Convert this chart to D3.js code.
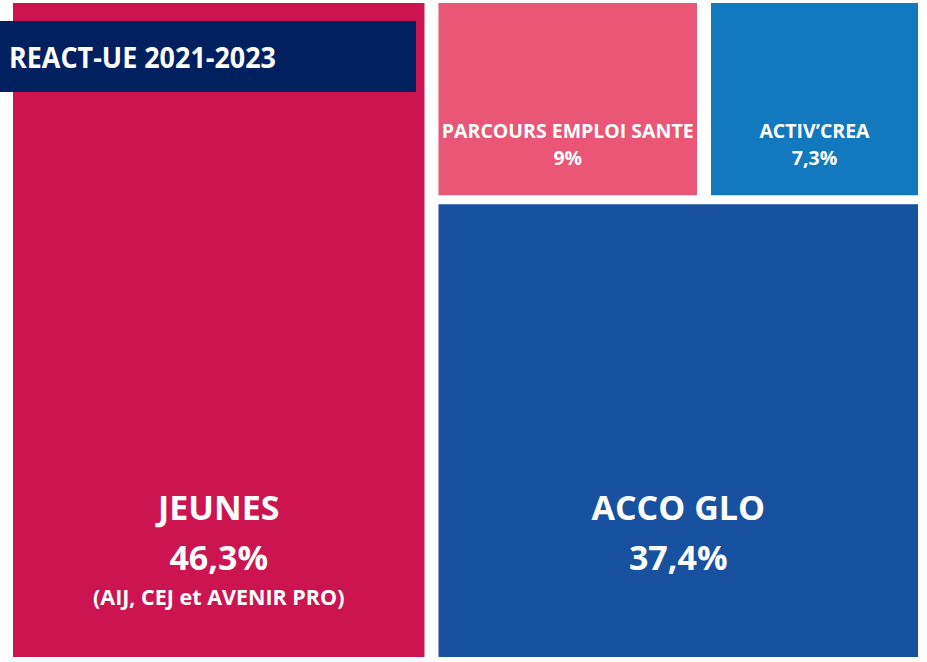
<!DOCTYPE html>
<html>
<head>
<meta charset="utf-8">
<script src="https://cdn.jsdelivr.net/npm/d3@7"></script>
<style>
  html, body { margin: 0; padding: 0; background: #fff; }
  svg { display: block; }
  text { font-family: "Open Sans", "Noto Sans", sans-serif; font-weight: 700; fill: #fff; }
</style>
</head>
<body>
<div id="chart"></div>
<script>
// valeurs
var categories = ["JEUNES", "PARCOURS EMPLOI SANTE", "ACTIV’CREA", "ACCO GLO"];
var shares = [46.3, 9, 7.3, 37.4];
var shareLabels = ["46,3%", "9%", "7,3%", "37,4%"];
var notes = ["(AIJ, CEJ et AVENIR PRO)", "", "", ""];
var parents = ["root", "haut", "haut", "droite"];
var groups = ["droite", "haut"];
var groupParents = ["root", "droite"];
var title = "REACT-UE 2021-2023";

var width = 927, height = 662;

var svg = d3.select("#chart").append("svg")
    .attr("width", width)
    .attr("height", height);

// table pour d3.stratify (l'ordre fixe la place des cases)
var rows = [{id: "root", parent: null}];
rows.push({id: categories[0], parent: parents[0], value: shares[0], label: shareLabels[0], note: notes[0]});
groups.forEach(function(g, i) { rows.push({id: g, parent: groupParents[i]}); });
for (var i = 1; i < categories.length; i++) {
  rows.push({id: categories[i], parent: parents[i], value: shares[i], label: shareLabels[i], note: notes[i]});
}

var root = d3.stratify()
    .id(function(d) { return d.id; })
    .parentId(function(d) { return d.parent; })(rows)
    .sum(function(d) { return d.value || 0; });

var tile = function(node, x0, y0, x1, y1) {
  if (node.depth === 1) d3.treemapSlice(node, x0, y0, x1, y1);
  else d3.treemapDice(node, x0, y0, x1, y1);
};

d3.treemap()
    .tile(tile)
    .size([905, 654])
    .paddingInner(function(d) { return d.depth === 1 ? 9 : 14; })(root);

var color = d3.scaleOrdinal()
    .domain(categories)
    .range(["#cc1450", "#ea5675", "#1279bf", "#1751a0"]);

var g = svg.append("g").attr("transform", "translate(13,3)");

var cells = g.selectAll(".cell")
    .data(root.leaves())
    .enter().append("g")
    .attr("class", "cell");

cells.append("rect")
    .attr("x", function(d) { return d.x0; })
    .attr("y", function(d) { return d.y0; })
    .attr("width", function(d) { return d.x1 - d.x0; })
    .attr("height", function(d) { return d.y1 - d.y0; })
    .attr("fill", function(d) { return color(d.id); });

// gros blocs : grand texte ; petits blocs : texte plus fin
cells.each(function(d) {
  var cell = d3.select(this);
  var cx = (d.x0 + d.x1) / 2;
  var big = (d.y1 - d.y0) > 300;
  if (big) {
    cell.append("text").attr("x", cx).attr("y", d.y1 - 137)
        .attr("text-anchor", "middle").attr("font-size", 34).text(d.id);
    cell.append("text").attr("x", cx).attr("y", d.y1 - 87)
        .attr("text-anchor", "middle").attr("font-size", 34).text(d.data.label);
    if (d.data.note) {
      cell.append("text").attr("x", cx).attr("y", d.y1 - 52)
          .attr("text-anchor", "middle").attr("font-size", 21.5).text(d.data.note);
    }
  } else {
    cell.append("text").attr("x", cx).attr("y", d.y1 - 57)
        .attr("text-anchor", "middle").attr("font-size", 19.5).text(d.id);
    cell.append("text").attr("x", cx).attr("y", d.y1 - 30)
        .attr("text-anchor", "middle").attr("font-size", 19.5).text(d.data.label);
  }
});

// bandeau titre
svg.append("rect")
    .attr("x", 0).attr("y", 21)
    .attr("width", 416).attr("height", 71)
    .attr("fill", "#00205f");

svg.append("text")
    .attr("x", 9).attr("y", 68)
    .attr("font-size", 29)
    .attr("textLength", 267)
    .attr("lengthAdjust", "spacingAndGlyphs")
    .text(title);
</script>
</body>
</html>
